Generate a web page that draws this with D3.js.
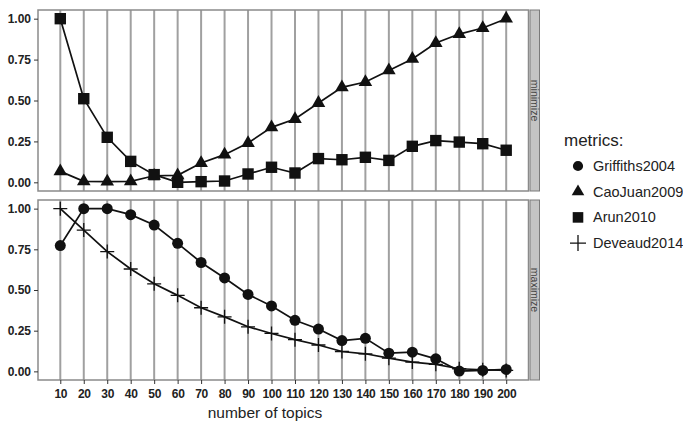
<!DOCTYPE html>
<html>
<head>
<meta charset="utf-8">
<script src="https://cdn.jsdelivr.net/npm/d3@7"></script>
<style>
  body { margin: 0; background: #fff; }
  text { font-family: "Liberation Sans", Arial, sans-serif; }
</style>
</head>
<body>
<svg width="683" height="438"></svg>
<script>
const topics = [10, 20, 30, 40, 50, 60, 70, 80, 90, 100, 110, 120, 130, 140, 150, 160, 170, 180, 190, 200];
const yTicks = [0, 0.25, 0.5, 0.75, 1];

// minimize panel
const caoJuan2009 = [0.067, 0.006, 0.004, 0.006, 0.04, 0.043, 0.118, 0.169, 0.24, 0.336, 0.387, 0.485, 0.58, 0.613, 0.684, 0.754, 0.851, 0.906, 0.943, 1.0];
const arun2010 = [1.0, 0.511, 0.275, 0.128, 0.047, 0.0, 0.004, 0.008, 0.051, 0.092, 0.057, 0.145, 0.138, 0.153, 0.134, 0.22, 0.255, 0.246, 0.236, 0.196];
// maximize panel
const griffiths2004 = [0.773, 1.0, 1.0, 0.963, 0.899, 0.787, 0.669, 0.574, 0.473, 0.402, 0.314, 0.26, 0.189, 0.203, 0.112, 0.118, 0.077, 0.002, 0.006, 0.012];
const deveaud2014 = [1.0, 0.868, 0.736, 0.629, 0.538, 0.467, 0.391, 0.335, 0.274, 0.233, 0.195, 0.162, 0.122, 0.108, 0.081, 0.057, 0.043, 0.016, 0.01, 0.006];

const metrics = ['Griffiths2004', 'CaoJuan2009', 'Arun2010', 'Deveaud2014'];
const shapes = {
  Griffiths2004: d3.symbolCircle,
  CaoJuan2009: d3.symbolTriangle,
  Arun2010: d3.symbolSquare,
  Deveaud2014: 'plus'
};
const sizes = { Griffiths2004: 95, CaoJuan2009: 80, Arun2010: 130 };

const panels = [
  { name: 'minimize', top: 10, bottom: 191, series: [['CaoJuan2009', caoJuan2009], ['Arun2010', arun2010]] },
  { name: 'maximize', top: 200, bottom: 380, series: [['Griffiths2004', griffiths2004], ['Deveaud2014', deveaud2014]] }
];

const svg = d3.select('svg');
const left = 38, right = 528.5;
const x = d3.scaleLinear().domain([0.5, 209.5]).range([left, right]);

function drawMarker(sel, metric, size) {
  if (shapes[metric] === 'plus') {
    const h = size / 2;
    sel.append('path')
      .attr('d', `M${-h},0H${h}M0,${-h}V${h}`)
      .attr('stroke', '#111').attr('stroke-width', 1.3).attr('fill', 'none');
  } else {
    sel.append('path')
      .attr('d', d3.symbol().type(shapes[metric]).size(sizes[metric] * (size / 14) ** 2)())
      .attr('fill', '#111');
  }
}

panels.forEach(p => {
  const y = d3.scaleLinear().domain([-0.05, 1.05]).range([p.bottom - 0.5, p.top + 0.5]);
  const g = svg.append('g');

  g.append('rect')
    .attr('x', left).attr('y', p.top)
    .attr('width', right - left).attr('height', p.bottom - p.top)
    .attr('fill', '#fff');

  g.selectAll('.grid').data(topics).join('line')
    .attr('x1', d => x(d)).attr('x2', d => x(d))
    .attr('y1', p.top).attr('y2', p.bottom)
    .attr('stroke', '#a0a0a0').attr('stroke-width', 2);

  g.append('rect')
    .attr('x', left).attr('y', p.top)
    .attr('width', right - left).attr('height', p.bottom - p.top)
    .attr('fill', 'none').attr('stroke', '#8a8a8a').attr('stroke-width', 1.5);

  // strip
  g.append('rect')
    .attr('x', right + 1.5).attr('y', p.top)
    .attr('width', 9.5).attr('height', p.bottom - p.top)
    .attr('fill', '#c4c4c4').attr('stroke', '#7a7a7a').attr('stroke-width', 1);
  g.append('text')
    .attr('transform', `translate(${right + 6.5},${(p.top + p.bottom) / 2}) rotate(90)`)
    .attr('text-anchor', 'middle').attr('dy', '0.35em')
    .attr('font-size', 10.5).attr('fill', '#444')
    .text(p.name);

  const yAxis = g.append('g')
    .attr('transform', `translate(${left},0)`)
    .call(d3.axisLeft(y).tickValues(yTicks).tickFormat(d3.format('.2f')).tickSize(4).tickPadding(3));
  yAxis.select('.domain').remove();
  yAxis.selectAll('line').attr('stroke', '#333');
  yAxis.selectAll('text').attr('font-size', 12).attr('fill', '#222').attr('font-weight', 'bold');

  p.series.forEach(([metric, vals]) => {
    const pts = topics.map((t, i) => [t, vals[i]]);
    g.append('path')
      .datum(pts)
      .attr('d', d3.line().x(d => x(d[0])).y(d => y(d[1])))
      .attr('fill', 'none').attr('stroke', '#111').attr('stroke-width', 1.7);
    pts.forEach(d => {
      const m = g.append('g').attr('transform', `translate(${x(d[0])},${y(d[1])})`);
      drawMarker(m, metric, 14);
    });
  });

  if (p.name === 'maximize') {
    const xAxis = g.append('g')
      .attr('transform', `translate(0,${p.bottom})`)
      .call(d3.axisBottom(x).tickValues(topics).tickSize(4).tickPadding(5));
    xAxis.select('.domain').remove();
    xAxis.selectAll('line').attr('stroke', '#333');
    xAxis.selectAll('text').attr('font-size', 12).attr('fill', '#222').attr('font-weight', 'bold')
      .attr('letter-spacing', -0.3);
  }
});

svg.append('text')
  .attr('x', 265).attr('y', 418)
  .attr('text-anchor', 'middle').attr('font-size', 15.5).attr('fill', '#222')
  .text('number of topics');

// legend
const legend = svg.append('g');
legend.append('text')
  .attr('x', 564).attr('y', 146)
  .attr('font-size', 17).attr('fill', '#222')
  .text('metrics:');
metrics.forEach((m, i) => {
  const cy = 166 + i * 25.7;
  const mk = legend.append('g').attr('transform', `translate(578,${cy})`);
  drawMarker(mk, m, m === 'Deveaud2014' ? 16 : 13);
  legend.append('text')
    .attr('x', 593).attr('y', cy).attr('dy', '0.35em')
    .attr('font-size', 14.5).attr('fill', '#222')
    .text(m);
});
</script>
</body>
</html>
